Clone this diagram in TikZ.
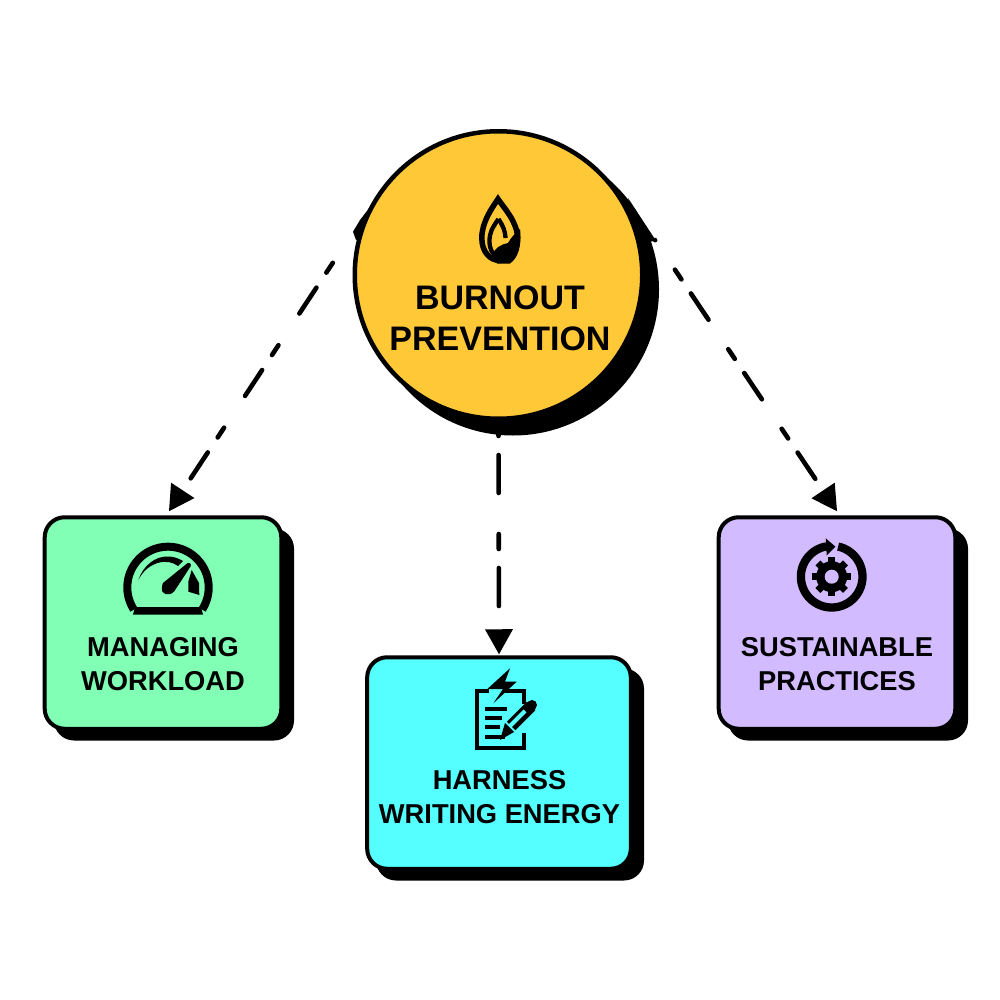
\documentclass[tikz,border=0pt]{standalone}
\usepackage{fontspec}
\setmainfont{Liberation Sans}
\usetikzlibrary{arrows.meta,calc}
\definecolor{hubc}{HTML}{FFC837}
\definecolor{greenc}{HTML}{80FFB5}
\definecolor{cyanc}{HTML}{56FFFF}
\definecolor{purpc}{HTML}{D3BBFF}
\tikzset{
  hubnode/.style={circle,draw=black,line width=4.5pt,inner sep=0pt,minimum size=287.5pt},
  hubshadow/.style={circle,fill=black,inner sep=0pt,minimum size=292pt},
  boxnode/.style={rectangle,rounded corners=20pt,draw=black,line width=4pt,inner sep=0pt,minimum height=211.5pt},
  boxshadow/.style={rectangle,rounded corners=20pt,fill=black,inner sep=0pt,minimum height=212pt},
  boxlabel/.style={align=center,font=\fontsize{27.3}{34}\selectfont\bfseries,inner sep=0pt},
  hublabel/.style={align=center,font=\fontsize{34}{41}\selectfont\bfseries,inner sep=0pt},
  flow/.style={line width=4.6pt,line cap=round,-{Triangle[length=25pt,width=28pt,line width=0pt]}},
}
\begin{document}
\begin{tikzpicture}[x=1pt,y=-1pt]
\useasboundingbox (0,0) rectangle (1000,1000);
% shadows and horn shapes
\node[hubshadow] (hubs) at (513,289.5) {};
\fill (353,231.7) -- (360,220) -- (387,185) -- (398,192) -- (372,232) -- (356,240) -- cycle;
\fill (628,198) -- (655.5,240) -- (640,246) -- cycle;
\node[boxshadow,minimum width=240pt] (s1) at (174,634.5) {};
\node[boxshadow,minimum width=268pt] (s2) at (510,774.5) {};
\node[boxshadow,minimum width=240pt] (s3) at (848,634.5) {};
% nodes
\node[hubnode,fill=hubc] (hub) at (498.5,275) {};
\node[boxnode,fill=greenc,minimum width=236.6pt] (green) at (163,623) {};
\node[boxnode,fill=cyanc,minimum width=263.6pt] (cyan) at (499,763) {};
\node[boxnode,fill=purpc,minimum width=236.6pt] (purple) at (837,623) {};
% connectors
\draw[flow,dash pattern=on 11.7pt off 18pt on 31pt off 38pt,dash phase=61.4pt]
  ($(hub.center)+(-145.2,-43.3)$) -- ([xshift=6pt,yshift=4pt]green.north);
\draw[flow,dash pattern=on 15pt off 19pt on 38pt off 41pt]
  (hub.south) -- ([yshift=1pt]cyan.north);
\draw[flow,dash pattern=on 11.7pt off 17pt on 31.6pt off 35.5pt,dash phase=60.1pt]
  ($(hub.center)+(156.5,-35)$) -- ([yshift=4pt]purple.north);
% labels
\node[hublabel] (t0) at (500,318) {BURNOUT\\PREVENTION};
\node[boxlabel] (t1) at (163,664) {MANAGING\\WORKLOAD};
\node[boxlabel] (t2) at (499.5,797) {HARNESS\\WRITING ENERGY};
\node[boxlabel] (t3) at (837,664) {SUSTAINABLE\\PRACTICES};
% flame icon
\draw[line width=5.5pt,miter limit=10] (498,199) .. controls (492,208) and (481.8,222) .. (481.8,238) .. controls (481.8,252) and (490,260.5) .. (500,260.5) .. controls (511,260.5) and (517.5,250) .. (517.5,238) .. controls (517.5,222) and (504,208) .. (498,199) -- cycle;
\draw[line width=4.3pt] (498.5,219) .. controls (492,228) and (489.5,233) .. (489.5,241) .. controls (489.5,249) and (492,254) .. (498,258);
\draw[line width=4.3pt] (498.5,219) .. controls (503,226) and (505,230) .. (505.5,238);
\fill (520,229) .. controls (514,234) and (511,238) .. (508,243) .. controls (502,244) and (494,248) .. (492,256) -- (497,263.5) -- (510,263.5) .. controls (518,258) and (522,246) .. (520,229) -- cycle;
% gauge icon
\draw[line width=8pt] plot[domain=-33:213,samples=80] ({168+40.7*cos(\x)},{587.4-40.7*sin(\x)});
\fill (133,614.5) -- (135,607) -- (201,607) -- (203,614.5) -- cycle;
\fill (163,583) -- (187,563.5) .. controls (189,561.5) and (192,564) .. (190.5,566.5) -- (174.5,591) .. controls (170,597) and (160,595) .. (162,587) .. controls (162,585.5) and (162.5,584) .. (163,583) -- cycle;
\fill (138.3,580) .. controls (143,566) and (155,556) .. (168,556.5) .. controls (173,556.5) and (178,558) .. (183,561) -- (178,566) .. controls (168,558) and (148,561) .. (138.3,580) -- cycle;
\fill (191.7,570) -- (199,583) -- (199.3,595) -- (188.3,591.7) -- (188.3,581.7) -- cycle;
% document icon
\draw[line width=4.4pt] (489,691) -- (477,691) -- (477,748) -- (524,748) -- (524,733);
\draw[line width=4.4pt] (503,691) -- (524,691) -- (524,704);
\fill (510,668.3) -- (487.3,689) -- (503,689) -- (493.3,703.3) -- (516.7,681.7) -- (505,681.7) -- cycle;
\fill (485,707) rectangle (507,711);
\fill (485,716) rectangle (502,720);
\fill (485,725) rectangle (500,729);
\fill (485,735) rectangle (505,739);
\draw[line width=12pt] (511,726) -- (531,706);
\draw[line width=10pt,line cap=round] (529,708) -- (532,705);
\draw[cyanc,line width=4pt] (509,727) -- (525,711);
\fill (505,723) -- (514,732) -- (500,740) -- cycle;
% gear icon
\draw[line width=8.3pt] plot[domain=78:-260,samples=100] ({831.7+30.8*cos(\x)},{576.7-30.8*sin(\x)});
\fill (825.7,538.3) -- (835.5,546.7) -- (826.7,555.5) -- cycle;
\fill (831.7,576.7) circle[radius=15.5];
\foreach \a in {0,45,...,315}
  \draw[line width=7pt] (831.7,576.7) ++(\a:12) -- ++(\a:7.5);
\fill[purpc] (831.7,576.7) circle[radius=7];
\end{tikzpicture}
\end{document}
